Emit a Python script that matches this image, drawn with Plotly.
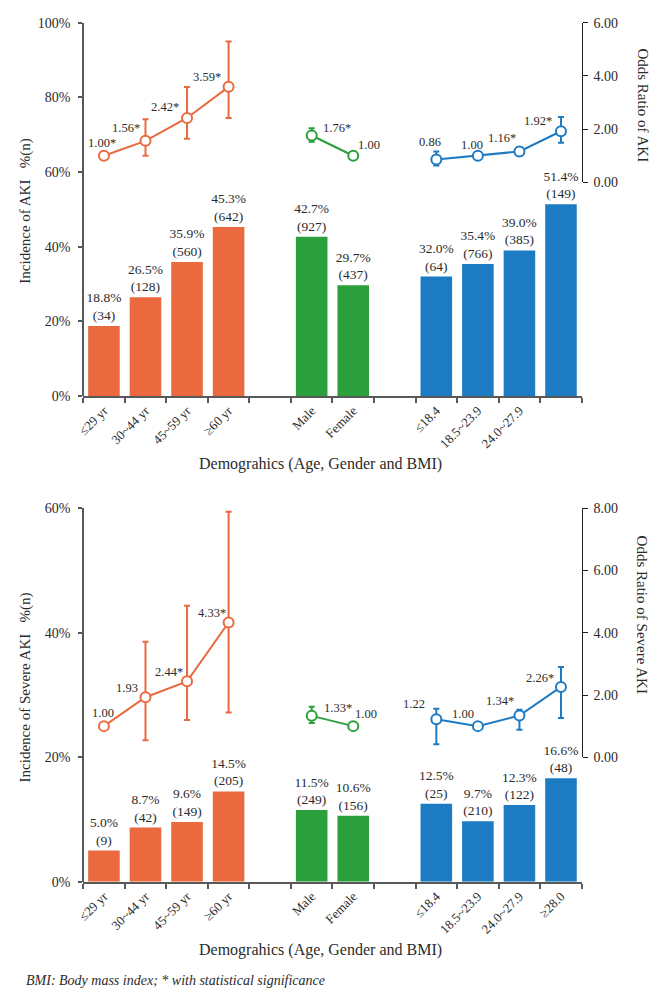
import plotly.graph_objects as go

# ---- categories (blank slots separate the three demographic groups) ----
age_labels = ["≤29 yr", "30~44 yr", "45~59 yr", "≥60 yr"]
sex_labels = ["Male", "Female"]
bmi_labels = ["≤18.4", "18.5~23.9", "24.0~27.9", "≥28.0"]

age_pos = [0, 1, 2, 3]
sex_pos = [5, 6]
bmi_pos = [8, 9, 10, 11]

# ---- incidence of AKI, % and n ----
aki_age_pct = [18.8, 26.5, 35.9, 45.3]
aki_age_n = [34, 128, 560, 642]
aki_sex_pct = [42.7, 29.7]
aki_sex_n = [927, 437]
aki_bmi_pct = [32.0, 35.4, 39.0, 51.4]
aki_bmi_n = [64, 766, 385, 149]

# ---- odds ratio of AKI with 95% CI (None = reference group) ----
aki_age_or = [1.00, 1.56, 2.42, 3.59]
aki_age_lo = [None, 1.00, 1.64, 2.42]
aki_age_hi = [None, 2.37, 3.58, 5.30]
aki_age_sig = [True, True, True, True]
aki_sex_or = [1.76, 1.00]
aki_sex_lo = [1.53, None]
aki_sex_hi = [2.03, None]
aki_sex_sig = [True, False]
aki_bmi_or = [0.86, 1.00, 1.16, 1.92]
aki_bmi_lo = [0.63, None, 1.00, 1.49]
aki_bmi_hi = [1.16, None, 1.32, 2.46]
aki_bmi_sig = [False, False, True, True]

# ---- incidence of severe AKI, % and n ----
sev_age_pct = [5.0, 8.7, 9.6, 14.5]
sev_age_n = [9, 42, 149, 205]
sev_sex_pct = [11.5, 10.6]
sev_sex_n = [249, 156]
sev_bmi_pct = [12.5, 9.7, 12.3, 16.6]
sev_bmi_n = [25, 210, 122, 48]

# ---- odds ratio of severe AKI with 95% CI ----
sev_age_or = [1.00, 1.93, 2.44, 4.33]
sev_age_lo = [None, 0.55, 1.20, 1.44]
sev_age_hi = [None, 3.71, 4.87, 7.89]
sev_age_sig = [False, False, True, True]
sev_sex_or = [1.33, 1.00]
sev_sex_lo = [1.10, None]
sev_sex_hi = [1.62, None]
sev_sex_sig = [True, False]
sev_bmi_or = [1.22, 1.00, 1.34, 2.26]
sev_bmi_lo = [0.42, None, 0.88, 1.26]
sev_bmi_hi = [1.56, None, 1.53, 2.90]
sev_bmi_sig = [False, False, True, True]

ORANGE = "#EA693E"
GREEN = "#2A9F3B"
BLUE = "#1C7BC2"
TXT = "#2b2b2b"
AXIS = "#595959"
FONT = "Liberation Serif, DejaVu Serif, serif"

W, H = 651, 997
# plot boxes in pixels
X0, X1 = 77, 581
TOP_Y0, TOP_Y1 = 16, 395
BOT_Y0, BOT_Y1 = 509, 888
TOP_OR_ZERO = 178
BOT_OR_ZERO = 761.7

# label placement styles: (anchor, x offset px, y offset px)
L = lambda dx=-3, dy=12: ("right", dx, dy)
C = lambda dx=0, dy=12: ("center", dx, dy)
R = lambda dx=4, dy=10: ("left", dx, dy)


def fy(py):
    return 1 - py / H


fig = go.Figure()


def bar_labels(pcts, ns):
    return [f"{p:.1f}%<br>({n})" for p, n in zip(pcts, ns)]


def or_labels(vals, sig):
    return [f"{v:.2f}" + ("*" if s else "") for v, s in zip(vals, sig)]


def err(vals, lo, hi):
    plus = [None if h is None else h - v for v, h in zip(vals, hi)]
    minus = [None if l is None else v - l for v, l in zip(vals, lo)]
    return plus, minus


def add_panel(xa, ya, ya_or, groups):
    for pos, pct, ns, orv, lo, hi, sig, color, places in groups:
        fig.add_trace(go.Bar(
            x=pos, y=pct, xaxis=xa, yaxis=ya,
            marker=dict(color=color, line=dict(width=0)),
            text=bar_labels(pct, ns), textposition="outside",
            constraintext="none",
            textfont=dict(family=FONT, size=13.5, color=TXT),
            cliponaxis=False, showlegend=False, hoverinfo="skip",
        ))
        plus, minus = err(orv, lo, hi)
        fig.add_trace(go.Scatter(
            x=pos, y=orv, xaxis=xa, yaxis=ya_or,
            mode="lines+markers",
            line=dict(color=color, width=2),
            marker=dict(symbol="circle", size=10, color="white",
                        line=dict(color=color, width=2)),
            error_y=dict(type="data", symmetric=False, array=plus,
                         arrayminus=minus, color=color, thickness=2, width=3),
            cliponaxis=False, showlegend=False, hoverinfo="skip",
        ))
        for xv, yv, txt, (anc, dx, dy) in zip(pos, orv, or_labels(orv, sig), places):
            fig.add_annotation(
                x=xv, y=yv, xref=xa, yref=ya_or, text=txt, showarrow=False,
                xanchor=anc, yanchor="middle", xshift=dx, yshift=dy,
                font=dict(family=FONT, size=12.5, color=TXT),
            )


add_panel("x", "y", "y2", [
    (age_pos, aki_age_pct, aki_age_n, aki_age_or, aki_age_lo, aki_age_hi, aki_age_sig,
     ORANGE, [C(-2, 13), L(-3, 13), L(-6, 11), L(-6, 10)]),
    (sex_pos, aki_sex_pct, aki_sex_n, aki_sex_or, aki_sex_lo, aki_sex_hi, aki_sex_sig,
     GREEN, [R(9, 8), R(3, 11)]),
    (bmi_pos, aki_bmi_pct, aki_bmi_n, aki_bmi_or, aki_bmi_lo, aki_bmi_hi, aki_bmi_sig,
     BLUE, [C(-6, 17), C(-6, 11), L(-1, 13), L(-7, 10)]),
])
add_panel("x2", "y3", "y4", [
    (age_pos, sev_age_pct, sev_age_n, sev_age_or, sev_age_lo, sev_age_hi, sev_age_sig,
     ORANGE, [C(-1, 13), L(-5, 9), L(-2, 9), L(-1, 10)]),
    (sex_pos, sev_sex_pct, sev_sex_n, sev_sex_or, sev_sex_lo, sev_sex_hi, sev_sex_sig,
     GREEN, [R(10, 8), R(0, 12)]),
    (bmi_pos, sev_bmi_pct, sev_bmi_n, sev_bmi_or, sev_bmi_lo, sev_bmi_hi, sev_bmi_sig,
     BLUE, [L(-9, 15), L(-2, 12), L(-3, 15), L(-5, 9)]),
])

centers = age_pos + sex_pos + bmi_pos
labels_bottom = age_labels + sex_labels + bmi_labels
labels_top = age_labels + sex_labels + bmi_labels[:3] + [""]

xdom = [X0 / W, X1 / W]


def xaxis(anchor, ticktext):
    return dict(
        domain=xdom, anchor=anchor, range=[-0.5, 11.5],
        tickmode="array", tickvals=centers, ticktext=ticktext,
        tickangle=-45, ticks="", ticklen=0,
        tickfont=dict(family=FONT, size=13, color=TXT),
        showline=True, linecolor=AXIS, linewidth=2,
        showgrid=False, zeroline=False,
        minor=dict(ticks="outside", tickmode="linear", tick0=-0.5, dtick=1,
                   ticklen=5, tickwidth=1.5, tickcolor=AXIS, showgrid=False),
    )


def pct_axis(dom, rng):
    return dict(
        domain=dom, anchor="free", position=X0 / W, range=rng,
        dtick=20, ticksuffix="%", ticks="outside", ticklen=4,
        tickwidth=1.5, tickcolor=AXIS, ticklabelstandoff=5,
        tickfont=dict(family=FONT, size=14, color=TXT),
        showline=True, linecolor=AXIS, linewidth=2,
        showgrid=False, zeroline=False,
    )


def or_axis(dom, rng):
    return dict(
        domain=dom, anchor="free", position=X1 / W, side="right", range=rng,
        dtick=2, tickformat=".2f", ticks="outside", ticklen=5,
        tickwidth=1, tickcolor="#222", ticklabelstandoff=3,
        tickfont=dict(family=FONT, size=14, color=TXT),
        showline=True, linecolor="#222", linewidth=1,
        showgrid=False, zeroline=False,
    )


fig.update_layout(
    width=W, height=H, autosize=False,
    margin=dict(l=0, r=0, t=0, b=0),
    paper_bgcolor="white", plot_bgcolor="rgba(0,0,0,0)",
    barmode="overlay", bargap=0.24,
    xaxis=xaxis("y", labels_top),
    xaxis2=xaxis("y3", labels_bottom),
    yaxis=pct_axis([fy(TOP_Y1), fy(TOP_Y0)], [0, 100]),
    yaxis2=or_axis([fy(TOP_OR_ZERO), fy(TOP_Y0)], [0, 6]),
    yaxis3=pct_axis([fy(BOT_Y1), fy(BOT_Y0)], [0, 60]),
    yaxis4=or_axis([fy(BOT_OR_ZERO), fy(BOT_Y0)], [0, 8]),
    font=dict(family=FONT, color=TXT),
)

ytitle_font = dict(family=FONT, size=15, color=TXT)
xtitle_font = dict(family=FONT, size=16, color=TXT)
annotations = [
    dict(text="Incidence of AKI   %(n)", x=19 / W, y=fy(207), textangle=-90,
         font=ytitle_font),
    dict(text="Odds Ratio of AKI", x=642 / W, y=fy(100), textangle=90,
         font=ytitle_font),
    dict(text="Demograhics (Age, Gender and BMI)", x=317 / W, y=fy(464),
         font=xtitle_font),
    dict(text="Incidence of Severe AKI   %(n)", x=19 / W, y=fy(691), textangle=-90,
         font=ytitle_font),
    dict(text="Odds Ratio of Severe AKI", x=642 / W, y=fy(617), textangle=90,
         font=ytitle_font),
    dict(text="Demograhics (Age, Gender and BMI)", x=317 / W, y=fy(957),
         font=xtitle_font),
]
for a in annotations:
    fig.add_annotation(xref="paper", yref="paper", showarrow=False,
                       xanchor="center", yanchor="middle", **a)
fig.add_annotation(
    text="<i>BMI: Body mass index; * with statistical significance</i>",
    xref="paper", yref="paper", x=17 / W, y=fy(988),
    xanchor="left", yanchor="middle", showarrow=False,
    font=dict(family=FONT, size=14, color=TXT),
)

fig.write_html("out.html")
